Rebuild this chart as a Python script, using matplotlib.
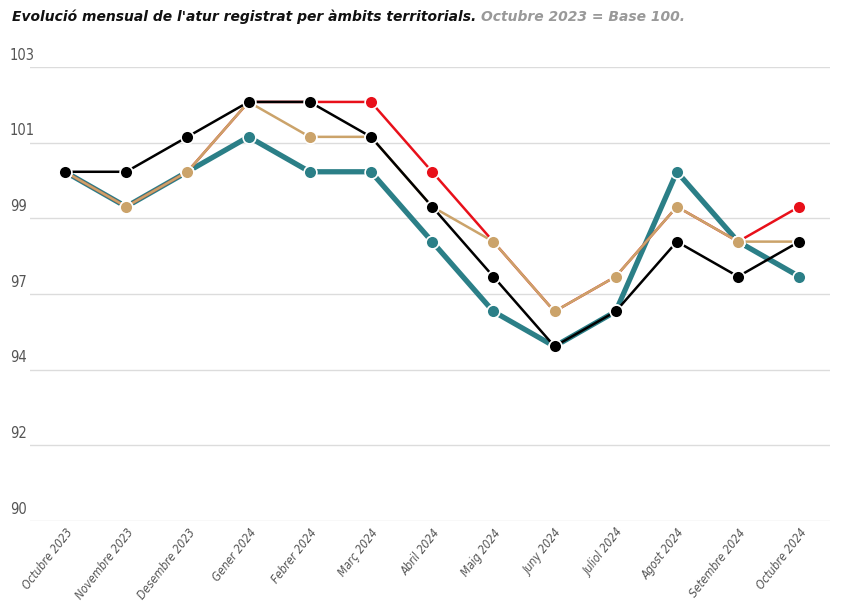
import matplotlib.pyplot as plt
from matplotlib.transforms import blended_transform_factory

mesos = ['Octubre 2023', 'Novembre 2023', 'Desembre 2023', 'Gener 2024', 'Febrer 2024',
         'Març 2024', 'Abril 2024', 'Maig 2024', 'Juny 2024', 'Juliol 2024',
         'Agost 2024', 'Setembre 2024', 'Octubre 2024']

teal = [100, 99, 100, 101, 100, 100, 98, 96, 95, 96, 100, 98, 97]
vermell = [100, 99, 100, 102, 102, 102, 100, 98, 96, 97, 99, 98, 99]
marro = [100, 99, 100, 102, 101, 101, 99, 98, 96, 97, 99, 98, 98]
negre = [100, 100, 101, 102, 102, 101, 99, 97, 95, 96, 98, 97, 98]

yticks = [90 + k * 13 / 6 for k in range(7)]

fig = plt.figure(figsize=(8.42, 6.07), dpi=100)
ax = fig.add_axes([0.0356, 0.1417, 0.95, 0.7479])

x = list(range(len(mesos)))
series = [(teal, '#2b7f87', 3.8, 20), (vermell, '#e8101a', 1.8, 21),
          (marro, '#cba36a', 1.8, 22), (negre, '#000000', 1.8, 23)]
for vals, col, lw, z in series:
    ax.plot(x, vals, color=col, lw=lw, marker='o', ms=9.2, mfc=col,
            mec='white', mew=1.2, zorder=z, clip_on=False)

ax.set_xlim(-0.572, 12.5)
ax.set_ylim(90, 103)
ax.set_yticks(yticks)
ax.set_yticklabels([])
ax.tick_params(axis='y', length=0)
ax.grid(axis='y', color='#dcdcdc', lw=1)
ax.set_axisbelow(True)
for s in ax.spines.values():
    s.set_visible(False)

tr = blended_transform_factory(ax.transAxes, ax.transData)
for t in yticks:
    ax.text(-0.025, t + 0.12, str(int(t + 0.5)), transform=tr, ha='left', va='bottom',
            fontsize=10.5, color='#555555', fontstretch='condensed')

ax.set_xticks(x)
ax.set_xticklabels(mesos, rotation=52, ha='right', rotation_mode='anchor',
                   fontsize=8.6, color='#555555', style='italic', fontstretch='condensed')
ax.tick_params(axis='x', length=0, pad=4)

t1 = fig.text(0.014, 0.972, "Evolució mensual de l'atur registrat per àmbits territorials. ",
              fontsize=10, fontweight='bold', style='italic', color='#111111', va='center')
fig.canvas.draw()
bb = t1.get_window_extent().transformed(fig.transFigure.inverted())
fig.text(bb.x1, 0.972, "Octubre 2023 = Base 100.", fontsize=10, fontweight='bold',
         style='italic', color='#999999', va='center')

fig.savefig('out.png', dpi=100)
